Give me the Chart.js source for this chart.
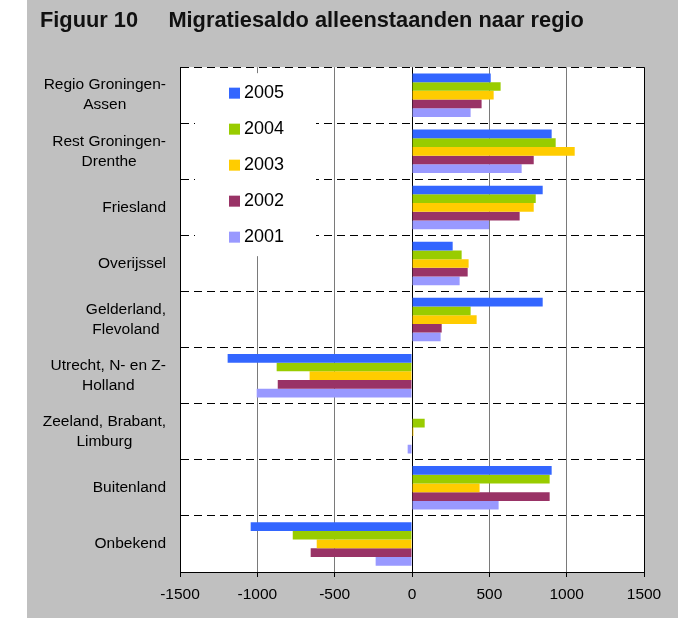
<!DOCTYPE html>
<html>
<head>
<meta charset="utf-8">
<script src="https://cdn.jsdelivr.net/npm/chart.js@4/dist/chart.umd.min.js"></script>
<style>
  html, body { margin: 0; padding: 0; background: #fff; }
  #box { position: absolute; left: 27px; top: 0; width: 651px; height: 618px; background: #c0c0c0; }
  canvas { display: block; }
</style>
</head>
<body>
<div id="box"><canvas id="chart" width="651" height="618"></canvas></div>
<script>
// data
const regions = [
  ["Regio Groningen-", "Assen"],
  ["Rest Groningen-", "Drenthe"],
  "Friesland",
  "Overijssel",
  ["Gelderland,", "Flevoland"],
  ["Utrecht, N- en Z-", "Holland"],
  ["Zeeland, Brabant,", "Limburg"],
  "Buitenland",
  "Onbekend"
];
const years = ["2005", "2004", "2003", "2002", "2001"];
const saldo2005 = [509, 903, 845, 263, 845, -1192, 0, 903, -1043];
const saldo2004 = [573, 929, 800, 321, 379, -875, 82, 890, -771];
const saldo2003 = [528, 1052, 787, 366, 418, -662, 9, 437, -616];
const saldo2002 = [450, 787, 696, 360, 192, -868, 0, 890, -655];
const saldo2001 = [379, 709, 498, 308, 185, -1004, -28, 560, -235];
const xMin = -1500, xMax = 1500, xStep = 500;

const barColors = ["#3366ff", "#99cc00", "#ffcc00", "#993366", "#9999ff"];
const series = [saldo2005, saldo2004, saldo2003, saldo2002, saldo2001];
const FONT = "Arial, 'Liberation Sans', sans-serif";

// white plot background, legend inside the plot, centred category labels
const extras = {
  id: "extras",
  beforeDraw(chart) {
    const { ctx, chartArea: a } = chart;
    ctx.save();
    ctx.fillStyle = "#fff";
    ctx.fillRect(a.left, a.top, a.right - a.left, a.bottom - a.top);
    ctx.restore();
  },
  afterDatasetsDraw(chart) {
    const { ctx, chartArea: a } = chart;
    ctx.save();
    ctx.fillStyle = "#fff";
    ctx.fillRect(a.left + 15, a.top + 6, 121, 183);
    ctx.font = "18px " + FONT;
    ctx.textBaseline = "middle";
    chart.data.datasets.forEach((ds, i) => {
      const y = a.top + 26 + i * 36;
      ctx.fillStyle = ds.backgroundColor;
      ctx.fillRect(a.left + 49, y - 5.5, 11, 11);
      ctx.fillStyle = "#000";
      ctx.fillText(ds.label, a.left + 64, y);
    });

    const yScale = chart.scales.y;
    ctx.font = "15.5px " + FONT;
    ctx.textAlign = "center";
    ctx.fillStyle = "#000";
    chart.data.labels.forEach((lab, i) => {
      const lines = [].concat(lab);
      const w = Math.max(...lines.map(l => ctx.measureText(l).width));
      const cx = a.left - 14 - w / 2;
      const cy = yScale.getPixelForValue(i);
      lines.forEach((l, j) => ctx.fillText(l, cx, cy + (j - (lines.length - 1) / 2) * 20));
    });
    ctx.restore();
  }
};

new Chart(document.getElementById("chart"), {
  type: "bar",
  data: {
    labels: regions,
    datasets: years.map((y, i) => ({
      label: y,
      data: series[i],
      backgroundColor: barColors[i],
      borderWidth: 0,
      barPercentage: 1,
      categoryPercentage: 0.775
    }))
  },
  options: {
    indexAxis: "y",
    responsive: false,
    animation: false,
    layout: { padding: { left: 13, right: 34, top: 0, bottom: 0 } },
    scales: {
      x: {
        min: xMin,
        max: xMax,
        afterFit: s => { s.height = 46; },
        ticks: {
          stepSize: xStep,
          padding: 8,
          color: "#000",
          font: { family: FONT, size: 15.5 },
          callback: v => String(v)
        },
        grid: {
          color: c => (c.tick && (c.tick.value === 0 || c.tick.value === xMax)) ? "#000" : "#7a7a7a",
          tickColor: "#000",
          tickLength: 5,
          lineWidth: 1
        },
        border: { color: "#000", width: 1 }
      },
      y: {
        afterFit: s => { s.width = 140; },
        ticks: { display: false },
        grid: { color: "#000", lineWidth: 1, drawTicks: false, offset: true },
        border: { color: "#000", width: 1, dash: [8, 5] }
      }
    },
    plugins: {
      legend: { display: false },
      tooltip: { enabled: false },
      title: {
        display: true,
        text: "Figuur 10     Migratiesaldo alleenstaanden naar regio",
        align: "start",
        color: "#111",
        font: { family: FONT, size: 21.8, weight: "bold", lineHeight: 1.2 },
        padding: { top: 8, bottom: 33 }
      }
    }
  },
  plugins: [extras]
});
</script>
</body>
</html>
